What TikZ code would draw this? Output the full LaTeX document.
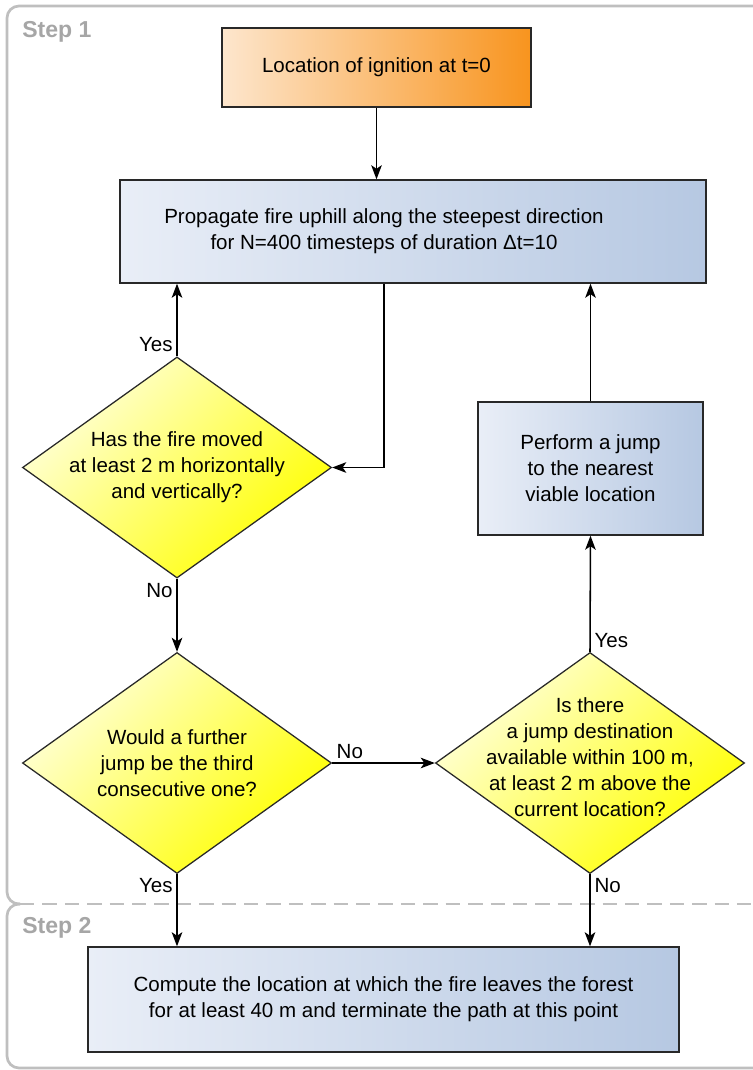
\documentclass[tikz,border=0pt]{standalone}
\usepackage{fontspec}
\setmainfont{Liberation Sans}
\usetikzlibrary{shapes.geometric,arrows.meta}

\definecolor{framegray}{RGB}{191,191,191}
\definecolor{stepgray}{RGB}{166,166,166}
\definecolor{boxline}{RGB}{40,40,40}
\definecolor{blueleft}{RGB}{233,238,247}
\definecolor{blueright}{RGB}{182,200,226}
\definecolor{orangeleft}{RGB}{253,230,205}
\definecolor{orangeright}{RGB}{248,148,30}
\definecolor{yellowlight}{RGB}{255,255,220}
\definecolor{yellowdark}{RGB}{255,255,0}

\begin{document}
\begin{tikzpicture}[
  x=0.025cm, y=-0.025cm,
  txt/.style={font=\fontsize{14.6}{18.5}\selectfont, align=center},
  process/.style={rectangle, draw=boxline, line width=0.95pt, left color=blueleft, right color=blueright, txt},
  startbox/.style={process, left color=orangeleft, right color=orangeright},
  decision/.style={diamond, draw=boxline, line width=0.9pt, top color=yellowlight, bottom color=yellowdark, shading angle=45, inner sep=0pt, minimum width=7.725cm, minimum height=5.525cm},
  arrow/.style={-{Stealth[length=10pt,width=7.5pt,inset=2.5pt]}, line width=1.1pt},
  answer/.style={txt, inner sep=3pt},
  frame/.style={draw=framegray, line width=1.9pt, rounded corners=0.3cm},
  steplabel/.style={font=\fontsize{16.4}{19}\selectfont\bfseries, text=stepgray, anchor=north west, inner sep=0pt}
  ]

  \useasboundingbox (0,0) rectangle (753,1070);

  % the two step frames, split by a dashed line
  \draw[frame] (20,904) -- (7,904) -- (7,6) -- (780,6);
  \draw[frame] (20,904) -- (7,904) -- (7,1068) -- (780,1068);
  \draw[draw=framegray, line width=1.9pt, dash pattern=on 0.36cm off 0.2cm] (20,904) -- (753,904);

  \node[steplabel] (step1) at (22,21) {Step 1};
  \node[steplabel] (step2) at (22,917) {Step 2};

  % boxes
  \node[startbox, minimum width=7.725cm, minimum height=1.975cm] (start) at (376.5,67.5) {Location of ignition at t=0};
  \node[process, minimum width=14.65cm, minimum height=2.575cm] (prop) at (413,231.5) {};
  \node[txt] (proptxt) at (384,231.5) {Propagate fire uphill along the steepest direction\\for N=400 timesteps of duration Δt=10};
  \node[process, minimum width=5.625cm, minimum height=3.325cm] (jump) at (590.5,468.5) {Perform a jump\\to the nearest\\viable location};
  \node[process, minimum width=14.775cm, minimum height=2.625cm] (final) at (383.5,999.5) {Compute the location at which the fire leaves the forest\\for at least 40 m and terminate the path at this point};

  % questions
  \node[decision] (moved) at (177,467.5) {};
  \node[txt] (movedtxt) at (moved) {Has the fire moved\\at least 2 m horizontally\\and vertically?};
  \node[decision] (third) at (177,763) {};
  \node[txt] (thirdtxt) at (third) {Would a further\\jump be the third\\consecutive one?};
  \node[decision] (dest) at (590,763) {};
  \node[txt] (desttxt) at (590,757) {Is there\\a jump destination\\available within 100 m,\\at least 2 m above the\\current location?};

  % answers
  \node[answer, anchor=south east] (yes1) at (moved.north) {Yes};
  \node[answer, anchor=north east] (no1) at (moved.south) {No};
  \node[answer, anchor=south west] (no2) at (third.east) {No};
  \node[answer, anchor=north east] (yes2) at (third.south) {Yes};
  \node[answer, anchor=south west] (yes3) at (dest.north) {Yes};
  \node[answer, anchor=north west] (no3) at (dest.south) {No};

  % connectors
  \draw[arrow] (start.south) -- (start.south |- prop.north);
  \draw[arrow] ([xshift=-0.725cm]prop.south) |- (moved.east);
  \draw[arrow] (moved.north) -- (moved.north |- prop.south);
  \draw[arrow] (moved.south) -- (third.north);
  \draw[arrow] (third.east) -- (dest.west);
  \draw[arrow] (dest.north) -- (jump.south);
  \draw[arrow] (jump.north) -- (jump.north |- prop.south);
  \draw[arrow] (third.south) -- (third.south |- final.north);
  \draw[arrow] (dest.south) -- (dest.south |- final.north);

\end{tikzpicture}
\end{document}
